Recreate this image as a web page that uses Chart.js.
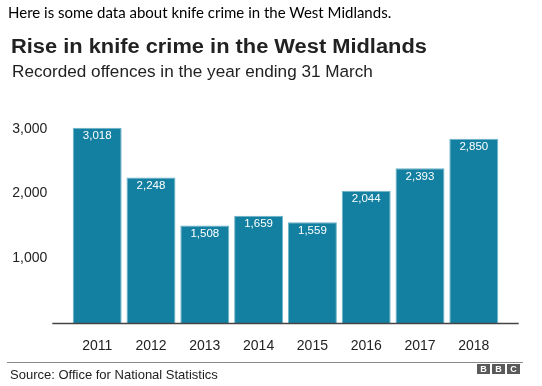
<!DOCTYPE html>
<html>
<head>
<meta charset="UTF-8">
<title>Rise in knife crime in the West Midlands</title>
<script src="https://cdn.jsdelivr.net/npm/chart.js"></script>
<style>
  html, body { margin: 0; padding: 0; background: #fff; }
  #wrap { position: relative; width: 542px; height: 386px; overflow: hidden; }
  #wrap canvas { position: absolute; left: 0; top: 0; }
  .txt { position: absolute; white-space: nowrap; line-height: 1; transform-origin: 0 0; }
  #intro { left: 8px; top: 3px; font: 15px Lato, sans-serif; color: #000; }
  #title { left: 11px; top: 34.5px; font: bold 19.5px "Liberation Sans", Arial, sans-serif; color: #222; transform: scaleX(1.12); }
  #sub { left: 12px; top: 62px; font: 16.3px "Liberation Sans", Arial, sans-serif; color: #222; transform: scaleX(1.053); }
  #rule { position: absolute; left: 7px; top: 362px; width: 516px; height: 1px; background: #8a8a8a; }
  #source { left: 10px; top: 366.5px; font: 13px "Liberation Sans", Arial, sans-serif; color: #222; }
  #bbc { position: absolute; left: 477px; top: 364px; height: 10px; display: flex; gap: 2px; }
  #bbc span { width: 13px; height: 10px; background: #5a5a5a; color: #fff; font: bold 9px "Liberation Sans", Arial, sans-serif; line-height: 10px; text-align: center; }
</style>
</head>
<body>
<div id="wrap">
  <canvas id="chart" width="542" height="386"></canvas>
  <div class="txt" id="intro">Here is some data about knife crime in the West Midlands.</div>
  <div class="txt" id="title">Rise in knife crime in the West Midlands</div>
  <div class="txt" id="sub">Recorded offences in the year ending 31 March</div>
  <div id="rule"></div>
  <div class="txt" id="source">Source: Office for National Statistics</div>
  <div id="bbc"><span>B</span><span>B</span><span>C</span></div>
</div>
<script>
// --- data ---
const years = ['2011', '2012', '2013', '2014', '2015', '2016', '2017', '2018'];
const offences = [3018, 2248, 1508, 1659, 1559, 2044, 2393, 2850];
const yTicks = [1000, 2000, 3000];

const BAR = '#1380A1';
const fmt = v => v.toLocaleString('en-GB');

// value labels inside the top of each bar
const barLabels = {
    id: 'barLabels',
    afterDatasetsDraw(chart) {
        const ctx = chart.ctx;
        const meta = chart.getDatasetMeta(0);
        ctx.save();
        ctx.fillStyle = '#fff';
        ctx.font = '11.5px "Liberation Sans", Arial, sans-serif';
        ctx.textAlign = 'center';
        ctx.textBaseline = 'middle';
        meta.data.forEach((bar, i) => {
            ctx.fillText(fmt(offences[i]), bar.x, bar.y + 8.5);
        });
        ctx.restore();
    }
};

// baseline runs a bit past the bars on both sides
const baseLine = {
    id: 'baseLine',
    afterDatasetsDraw(chart) {
        const { ctx, chartArea } = chart;
        ctx.save();
        ctx.strokeStyle = '#444';
        ctx.lineWidth = 1.3;
        ctx.beginPath();
        ctx.moveTo(chartArea.left - 18, chartArea.bottom + 0.5);
        ctx.lineTo(chartArea.right + 18, chartArea.bottom + 0.5);
        ctx.stroke();
        ctx.restore();
    }
};

new Chart(document.getElementById('chart'), {
    type: 'bar',
    data: {
        labels: years,
        datasets: [{
            data: offences,
            backgroundColor: BAR,
            borderColor: '#6fb3cb',
            borderWidth: 1,
            barPercentage: 0.91,
            categoryPercentage: 1
        }]
    },
    options: {
        responsive: false,
        animation: false,
        events: [],
        layout: { padding: { top: 116, right: 41.3, bottom: 0, left: 0 } },
        plugins: { legend: { display: false }, tooltip: { enabled: false } },
        scales: {
            x: {
                grid: { display: false, drawTicks: false },
                border: { display: false },
                ticks: { color: '#222', font: { family: '"Liberation Sans", Arial, sans-serif', size: 14 }, padding: 15, maxRotation: 0 },
                afterFit(scale) { scale.height = 63; }
            },
            y: {
                min: 0,
                max: 3200,
                grid: { display: false, drawTicks: false },
                border: { display: false },
                afterBuildTicks(scale) { scale.ticks = yTicks.map(v => ({ value: v })); },
                ticks: { color: '#222', font: { family: '"Liberation Sans", Arial, sans-serif', size: 14 }, padding: 23, callback: v => fmt(v) },
                afterFit(scale) { scale.width = 70.3; }
            }
        }
    },
    plugins: [barLabels, baseLine]
});
</script>
</body>
</html>
